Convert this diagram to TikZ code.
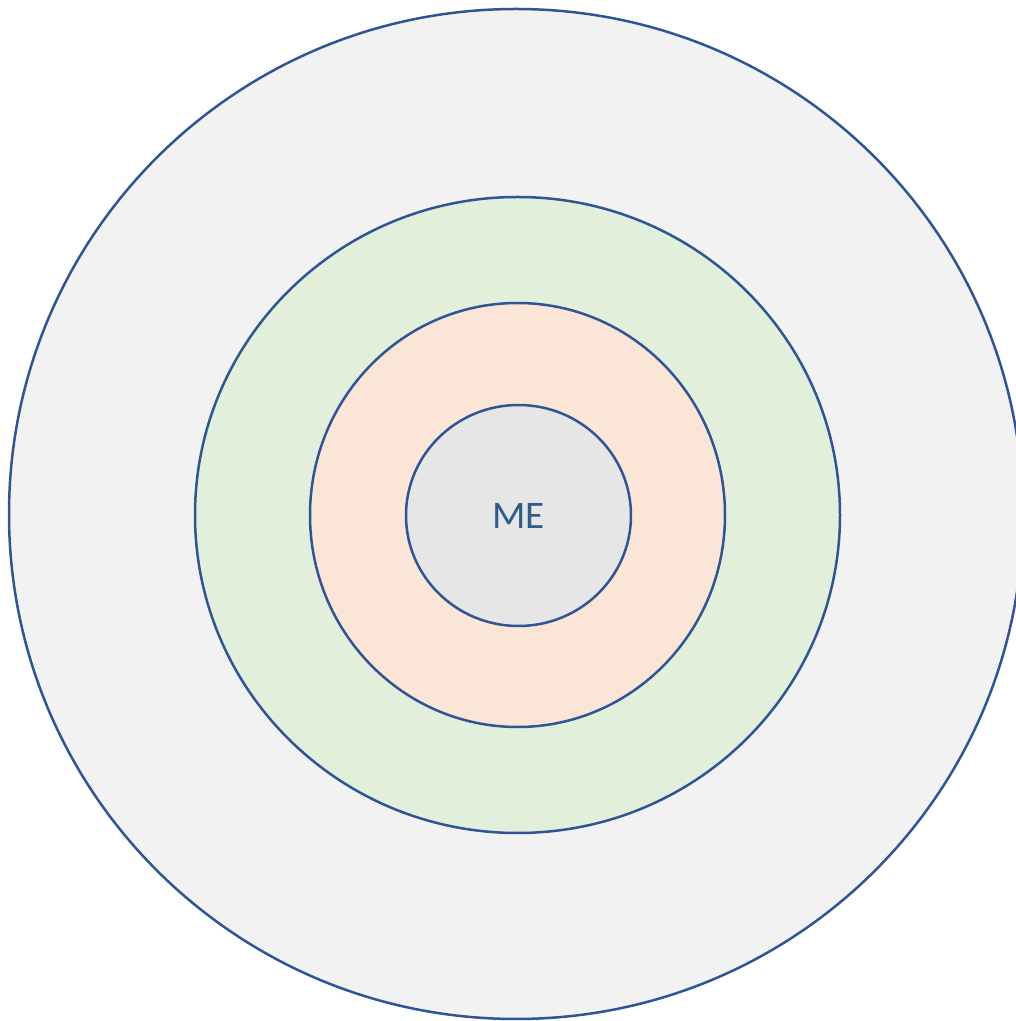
\documentclass[tikz,border=0pt]{standalone}
\usepackage{fontspec}
\setmainfont{Carlito}
\usetikzlibrary{shapes.geometric}
\definecolor{ringline}{HTML}{2F5597}
\definecolor{outerfill}{HTML}{F2F2F2}
\definecolor{greenfill}{HTML}{E2EFDA}
\definecolor{peachfill}{HTML}{FBE5D6}
\definecolor{innerfill}{HTML}{E6E6E6}
\definecolor{metext}{HTML}{2F5C8A}
\tikzset{
  ring/.style={ellipse, draw=ringline, line width=2.5pt, inner sep=0pt, outer sep=0pt},
}
\begin{document}
\begin{tikzpicture}[x=1pt,y=1pt]
\useasboundingbox (0,0) rectangle (1016,1021);
\clip (0,0) rectangle (1016,1021);
\fill[white] (0,0) rectangle (1016,1021);
\node[ring, fill=outerfill, minimum width=1014pt, minimum height=1010pt] (outer) at (516,507) {};
\node[ring, fill=greenfill, minimum width=645pt, minimum height=636pt] (green) at (517.5,506) {};
\node[ring, fill=peachfill, minimum width=415pt, minimum height=424pt] (peach) at (517.5,506) {};
\node[ring, fill=innerfill, minimum width=225pt, minimum height=221pt, text=metext, font=\fontsize{39}{41}\selectfont] (me) at (518.5,505.5) {ME};
\end{tikzpicture}
\end{document}
